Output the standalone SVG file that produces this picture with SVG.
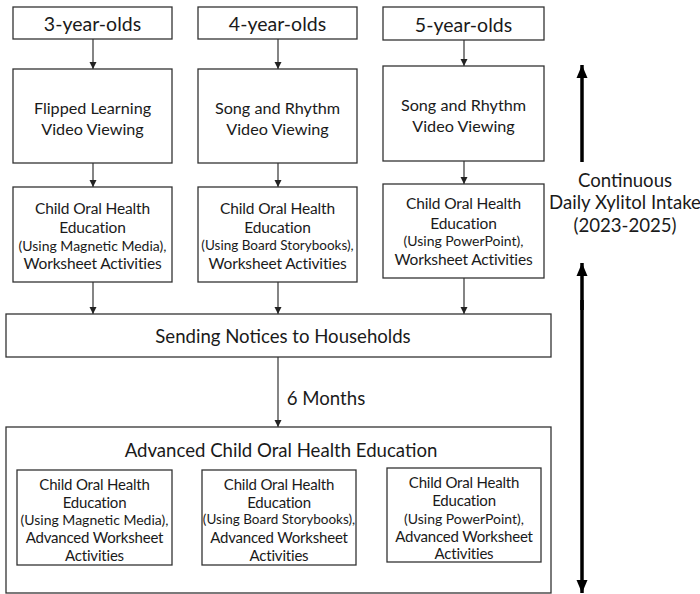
<svg xmlns="http://www.w3.org/2000/svg" width="700" height="594" viewBox="0 0 700 594">
<style>
.b{fill:#fff;stroke:#333;stroke-width:1.3}
text{font-family:Lato,"Open Sans",sans-serif;fill:#1a1a1a;text-anchor:middle;dominant-baseline:central}
.h{font-size:19.5px}
.v{font-size:16.2px}
.m{font-size:15.5px;letter-spacing:-0.15px}
.i{font-size:15px;letter-spacing:-0.2px}
.pm{font-size:14px}
.pb{font-size:13.5px}
.pp{font-size:14px}
.l{font-size:18.6px}
.c{stroke:#333;stroke-width:1.2;fill:none}
.t{stroke:#000;stroke-width:3.5;fill:none}
</style>
<defs>
<marker id="a" markerWidth="8" markerHeight="8" refX="7" refY="4" orient="auto" markerUnits="userSpaceOnUse"><path d="M0,0.5 L7,4 L0,7.5Z" fill="#222"/></marker>
<marker id="A" markerWidth="14" markerHeight="14" refX="13" refY="7" orient="auto" markerUnits="userSpaceOnUse"><path d="M0,1.5 L13,7 L0,12.5Z" fill="#000"/></marker>
</defs>
<rect width="700" height="594" fill="#fff"/>
<g id="connectors">
<line class="c" x1="93" y1="39" x2="93" y2="69" marker-end="url(#a)"/>
<line class="c" x1="278" y1="39" x2="278" y2="69" marker-end="url(#a)"/>
<line class="c" x1="464" y1="40" x2="464" y2="66" marker-end="url(#a)"/>
<line class="c" x1="93" y1="163" x2="93" y2="187" marker-end="url(#a)"/>
<line class="c" x1="278" y1="163" x2="278" y2="187" marker-end="url(#a)"/>
<line class="c" x1="464" y1="161" x2="464" y2="184" marker-end="url(#a)"/>
<line class="c" x1="93" y1="282" x2="93" y2="314" marker-end="url(#a)"/>
<line class="c" x1="278" y1="282" x2="278" y2="314" marker-end="url(#a)"/>
<line class="c" x1="464" y1="278" x2="464" y2="314" marker-end="url(#a)"/>
<line class="c" x1="278" y1="357" x2="278" y2="427" marker-end="url(#a)"/>
<line class="t" x1="582" y1="162" x2="582" y2="65" marker-end="url(#A)"/>
<line class="t" x1="582" y1="310" x2="582" y2="263" marker-end="url(#A)"/>
<line class="t" x1="582" y1="300" x2="582" y2="593" marker-end="url(#A)"/>
</g>
<g id="age3"><rect class="b" x="13" y="7" width="159" height="32"/><text class="h" x="92.5" y="23">3-year-olds</text></g>
<g id="age4"><rect class="b" x="198" y="7" width="159" height="32"/><text class="h" x="277.5" y="23">4-year-olds</text></g>
<g id="age5"><rect class="b" x="383" y="7" width="161" height="33"/><text class="h" x="463.5" y="24">5-year-olds</text></g>
<g id="video3"><rect class="b" x="13" y="69" width="159" height="94"/><text class="v" x="92.5" y="107">Flipped Learning</text><text class="v" x="92.5" y="128">Video Viewing</text></g>
<g id="video4"><rect class="b" x="198" y="69" width="159" height="94"/><text class="v" x="277.5" y="107">Song and Rhythm</text><text class="v" x="277.5" y="128">Video Viewing</text></g>
<g id="video5"><rect class="b" x="383" y="66" width="161" height="95"/><text class="v" x="463.5" y="104">Song and Rhythm</text><text class="v" x="463.5" y="125">Video Viewing</text></g>
<g id="edu3"><rect class="b" x="13" y="187" width="159" height="95"/><text class="m" x="92.5" y="208">Child Oral Health</text><text class="m" x="92.5" y="227">Education</text><text class="pm" x="92.5" y="245">(Using Magnetic Media),</text><text class="m" x="92.5" y="263">Worksheet Activities</text></g>
<g id="edu4"><rect class="b" x="198" y="187" width="159" height="95"/><text class="m" x="277.5" y="208">Child Oral Health</text><text class="m" x="277.5" y="227">Education</text><text class="pb" x="277.5" y="245">(Using Board Storybooks),</text><text class="m" x="277.5" y="263">Worksheet Activities</text></g>
<g id="edu5"><rect class="b" x="383" y="184" width="161" height="94"/><text class="m" x="463.5" y="203">Child Oral Health</text><text class="m" x="463.5" y="223">Education</text><text class="pp" x="463.5" y="240">(Using PowerPoint),</text><text class="m" x="463.5" y="259">Worksheet Activities</text></g>
<g id="notices"><rect class="b" x="6" y="314" width="545" height="43"/><text class="l" x="283" y="336">Sending Notices to Households</text></g>
<g id="months"><text class="l" x="326" y="398">6 Months</text></g>
<g id="advanced"><rect class="b" x="6" y="427" width="545" height="166"/><text class="l" x="281" y="450">Advanced Child Oral Health Education</text>
<g id="adv3"><rect class="b" x="17" y="470" width="155" height="95"/><text class="i" x="94.5" y="484">Child Oral Health</text><text class="i" x="94.5" y="502">Education</text><text class="pm" x="94.5" y="519">(Using Magnetic Media),</text><text class="i" x="94.5" y="537">Advanced Worksheet</text><text class="i" x="94.5" y="555">Activities</text></g>
<g id="adv4"><rect class="b" x="202" y="470" width="154" height="95"/><text class="i" x="279" y="484">Child Oral Health</text><text class="i" x="279" y="502">Education</text><text class="pb" x="279" y="519">(Using Board Storybooks),</text><text class="i" x="279" y="537">Advanced Worksheet</text><text class="i" x="279" y="555">Activities</text></g>
<g id="adv5"><rect class="b" x="387" y="468" width="154" height="94"/><text class="i" x="464" y="482">Child Oral Health</text><text class="i" x="464" y="500">Education</text><text class="pp" x="464" y="518">(Using PowerPoint),</text><text class="i" x="464" y="536">Advanced Worksheet</text><text class="i" x="464" y="553">Activities</text></g>
</g>
<g id="xylitol"><text class="l" x="625" y="180">Continuous</text><text class="l" x="625" y="202">Daily Xylitol Intake</text><text class="l" x="625" y="225">(2023-2025)</text></g>
</svg>
